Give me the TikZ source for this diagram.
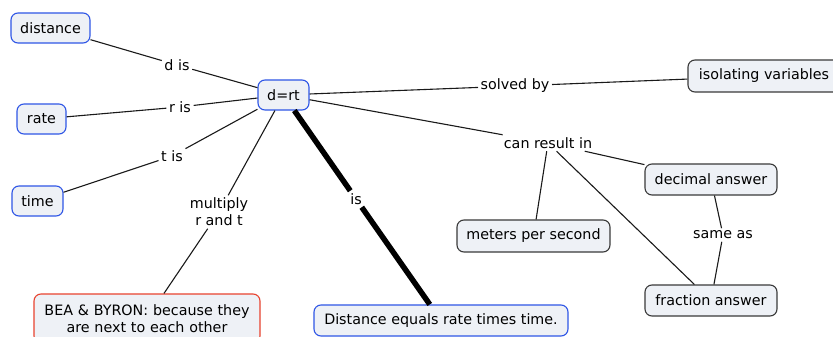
\documentclass[tikz,border=0pt]{standalone}
\usepackage{fontspec}
\setmainfont{DejaVu Sans}
\definecolor{boxfill}{HTML}{EEF1F6}
\definecolor{boxblue}{HTML}{2F56E6}
\definecolor{boxgray}{HTML}{3A3A3A}
\definecolor{boxred}{HTML}{E8432F}
\definecolor{linkcol}{HTML}{1A1A1A}
\begin{document}
\begin{tikzpicture}[x=1pt,y=-1pt,
  font=\fontsize{14.3}{17}\selectfont,
  box/.style={draw, rounded corners=7pt, fill=boxfill, line width=1.1pt, inner xsep=4pt, inner ysep=0pt, minimum height=30pt},
  bluebox/.style={box, draw=boxblue},
  graybox/.style={box, draw=boxgray, minimum height=32pt},
  redbox/.style={box, draw=boxred},
  lab/.style={inner sep=2.5pt},
  link/.style={line width=1.1pt, draw=linkcol},
  thicklink/.style={line width=5.5pt, draw=black}]
\useasboundingbox (0,0) rectangle (833,337);
\fill[white] (0,0) rectangle (833,337);
% concept nodes
\node[bluebox, minimum width=79pt] (distance) at (50.5,28) {distance};
\node[bluebox, minimum width=49pt] (rate) at (41.5,119) {rate};
\node[bluebox, minimum width=51pt] (time) at (37.5,201) {time};
\node[bluebox, minimum width=51pt] (drt) at (283.5,95) {d=rt};
\node[redbox, minimum height=49pt, minimum width=226pt, text width=215pt, align=center] (bea) at (147,318.5) {BEA \& BYRON: because they\\are next to each other};
\node[bluebox, minimum height=31pt, minimum width=254pt] (dist2) at (441,320.5) {Distance equals rate times time.};
\node[graybox, minimum width=153pt] (meters) at (533.5,236) {meters per second};
\node[graybox, minimum width=152pt] (iso) at (764,76) {isolating variables};
\node[graybox, minimum height=31pt, minimum width=132pt] (decimal) at (711,179.5) {decimal answer};
\node[graybox, minimum height=31pt, minimum width=132pt] (fraction) at (711,300.5) {fraction answer};
% linking phrases
\node[lab] (dis) at (177,65) {d is};
\node[lab] (ris) at (180,107) {r is};
\node[lab] (tis) at (172,156) {t is};
\node[lab, align=center] (mult) at (219,212) {multiply\\r and t};
\node[lab] (isl) at (356,199) {is};
\node[lab] (solved) at (515,86) {solved by};
\node[lab] (can) at (548,143) {can result in};
\node[lab] (same) at (723,235) {same as};
% connectors
\draw[link] (distance) -- (dis) -- (drt);
\draw[link] (rate) -- (ris) -- (drt);
\draw[link] (time) -- (tis) -- (drt);
\draw[link] (bea) -- (mult) -- (drt);
\draw[thicklink] (drt) -- (isl) -- (dist2);
\draw[link] (drt) -- (solved) -- (iso);
\draw[link] (drt) -- (can);
\draw[link] (can) -- (decimal);
\draw[link] (can) -- (meters);
\draw[link] (can) -- (fraction);
\draw[link] (decimal) -- (same) -- (fraction);
\end{tikzpicture}
\end{document}
